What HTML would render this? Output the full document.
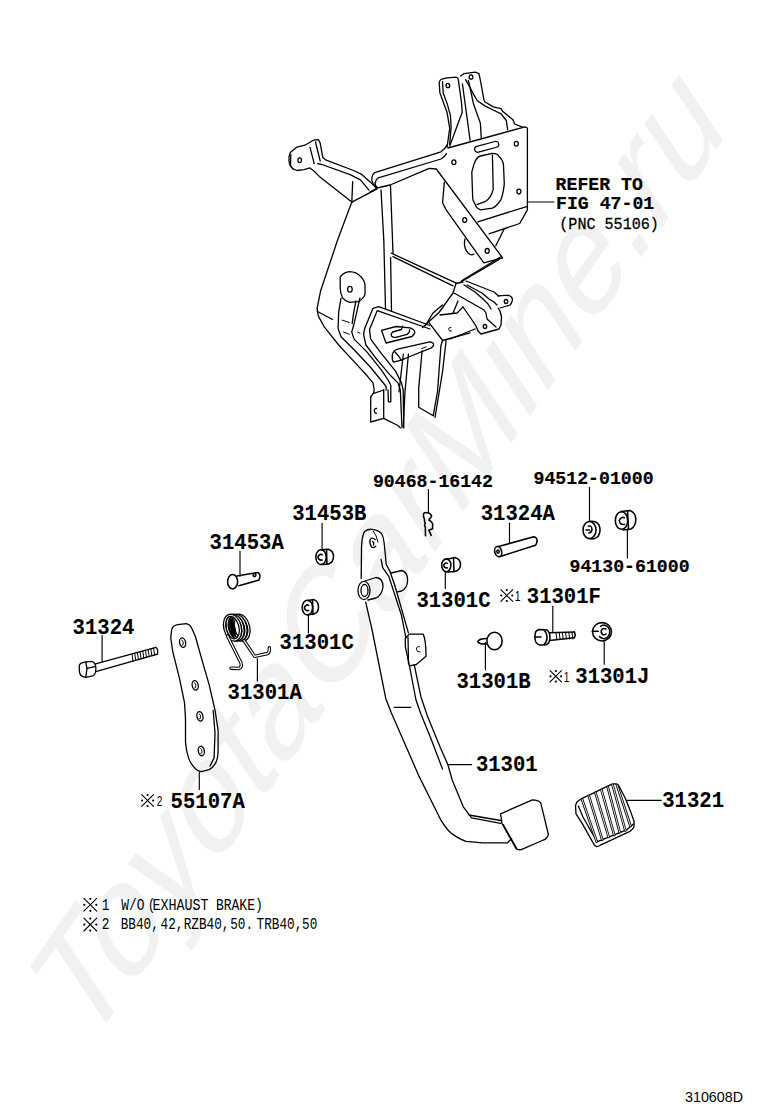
<!DOCTYPE html>
<html><head><meta charset="utf-8"><style>
html,body{margin:0;padding:0;background:#fff;}
body{width:760px;height:1112px;overflow:hidden;position:relative;}
#wm{position:absolute;left:0;top:0;width:760px;height:1112px;}
svg{position:absolute;left:0;top:0;}
</style></head><body>
<svg id="wm" width="760" height="1112" viewBox="0 0 760 1112">
<text x="0" y="0" transform="matrix(0.8148 -1.1671 0.826 1.239 85.2 1053.2)" style="font-family:'Liberation Sans',sans-serif;font-size:100px;fill:#f1f1f1;">ToyotaCarMine.ru</text>
</svg>
<svg width="760" height="1112" viewBox="0 0 760 1112">
<g fill="none" stroke="#000" stroke-linejoin="round" stroke-linecap="round">
<path d="M292.8,168.8 C288.5,165 287.8,157 290.3,152.5 L296.3,147.4 L305.7,144.8 L313.4,140.2 L318.5,139.7 L320.2,143.1 L322.8,157.6 L326.2,160.2 L353.6,170.5 L362.1,174.7 L370.7,182.4 L375.8,187.6" stroke-width="1.3" />
<path d="M292.8,168.8 L297.1,170.5 L304.0,169.6 L309.9,167.9 L314.2,171.3 L319.3,176.4 L351.8,202.1" stroke-width="1.3" />
<path d="M317.6,163.6 L321.9,164.5 L350.1,174.7 L360.4,179.9 L369.0,190.1" stroke-width="1.3" />
<path d="M310.0,147.4 L314.2,163.6" stroke-width="1.3" />
<path d="M315.5,142.0 L320.2,161.0" stroke-width="1.3" />
<path d="M290.8,154.5 L290.5,166.0" stroke-width="1.3" />
<ellipse cx="299.7" cy="160.2" rx="1.8" ry="2.4" stroke-width="1.3"/>
<path d="M352.7,181.6 L351.8,202.1" stroke-width="1.3" />
<path d="M351.8,202.1 L376.8,189.1" stroke-width="1.3" />
<path d="M351.8,202.1 L337.6,240 L320.5,291.3 L317.1,308.4 Q317.5,313 318.6,316.6 L324.5,327.2 L338.7,345 L354.1,361.6 L367.1,375.8 L373,382.9 L374.2,390 L373.5,393.2" stroke-width="1.3" />
<path d="M317.5,311.5 L332.5,319.5" stroke-width="1.3" />
<path d="M377.1,187.4 Q371,183 371.8,177.9 Q372.5,174 374.7,172.6 L441,151.8 Q445,149 447.5,144.7" stroke-width="1.3" />
<path d="M376.5,186.8 Q374.5,184 375.3,182.6 Q376,179 378.3,177.9 L441,159 Q444.5,157 446.4,153.6" stroke-width="1.3" />
<path d="M370.0,192.1 L377.1,188.0 L390.1,185.0 L429.2,168.4 L436.3,169.0 L502.6,257.8" stroke-width="1.3" />
<path d="M444.3,182.2 L442.6,202.8 L446.0,209.6 L483.8,262.9 L502.6,257.8" stroke-width="1.3" />
<ellipse cx="464.7" cy="220.1" rx="2" ry="2.4" stroke-width="1.3"/>
<ellipse cx="487.2" cy="250.9" rx="2" ry="2.4" stroke-width="1.3"/>
<path d="M447.9,148.0 L524.9,126.9 L527.4,128.0 L527.4,206.4 L477.8,221.8" stroke-width="1.3" />
<path d="M527.4,206.4 L527.4,209.9 L519.7,223.5 L489.0,233.8" stroke-width="1.3" />
<path d="M504.3,228.7 L495.8,245.8" stroke-width="1.3" />
<path d="M465,239 Q463,247 468,253 Q471,256 474,254" stroke-width="1.3" />
<rect x="474.3" y="143.8" width="24.8" height="6" rx="3" stroke-width="1.2" transform="rotate(-15 486.7 146.8)"/>
<path d="M471.8,172.2 L473.6,165.4 Q476,157 480.4,156 L492.4,153.4 Q498,153.5 499.2,156.8 Q503,160 503.5,165.4 L504.3,184.2 Q503,195 500.9,199.6 Q497,206 492.4,208.2 L480.4,209.9 Q476,208 475.3,204.7 Q472.7,200 472.7,197.9 Z" stroke-width="1.3" />
<path d="M492.4,155.1 L493.2,189.3 Q491,198 485.5,201.3 L477,204.7" stroke-width="1.3" />
<ellipse cx="453.9" cy="162.3" rx="2" ry="2.4" stroke-width="1.3"/>
<ellipse cx="516.3" cy="143.7" rx="2" ry="2.4" stroke-width="1.3"/>
<ellipse cx="518.9" cy="191.6" rx="2" ry="2.4" stroke-width="1.3"/>
<path d="M447.1,147 L449.7,128.4 L447.1,112.6 L443.2,102.1 L439.9,92.9 L439.2,82.4 Q440,79.5 441.8,79.1 L447.1,77.8 L456.3,77.1 Q458,77.5 458.3,79.7 L461.6,103.4 L462.2,112.6 L459.6,119.2 L449.7,146" stroke-width="1.3" />
<path d="M442.5,81.7 L443.2,92.9 L447.1,103.4 L450.4,115.3 L451.1,127.1 L449.7,144.2" stroke-width="1.3" />
<ellipse cx="447.9" cy="85.5" rx="1.8" ry="2.2" stroke-width="1.3"/>
<path d="M462.4,83.8 L466.0,110.0 L470.1,140.3" stroke-width="1.3" />
<path d="M468.4,80.4 L473.6,104.3 L480.4,123.2 L481.3,138.6" stroke-width="1.3" />
<path d="M460.7,76.1 L464.1,73.6 L475.3,72.2 L479.0,73.6 L480.4,80.4 L483.8,99.2 L484.7,101.8 L493.2,106.9 L500.9,108.6 L502.6,111.2 L512.9,119.7 L514.6,124.0 L523.2,127.4" stroke-width="1.3" />
<path d="M465.5,79.7 L469.5,86.3 L473.4,94.2 L477.4,100.8 L485.3,106.1 L493.2,110.0 L501.1,113.9 L506.3,120.5 L507.6,129.7" stroke-width="1.3" />
<ellipse cx="471" cy="77" rx="1.8" ry="2.2" stroke-width="1.3"/>
<path d="M381.0,190.0 L383.8,240.0 L385.5,308.4" stroke-width="1.3" />
<path d="M390.5,185.7 L393.0,253.2" stroke-width="1.3" />
<path d="M390.6,257.5 L391.5,311.0" stroke-width="1.3" />
<path d="M391.3,253.2 L456.3,283.2" stroke-width="1.3" />
<path d="M393.0,256.6 L453.0,285.9" stroke-width="1.3" />
<path d="M340.2,276.8 Q344,272 349.6,271.6 Q356,272 359,275 Q364,279 365,284.5 L365,294.7 Q362,300 358.2,301.6 L349.6,302.4 Q345,301 342.8,298.2 Q340,293 340.2,287.9 Z" stroke-width="1.3" />
<ellipse cx="349.9" cy="289.3" rx="2.3" ry="2.9" stroke-width="1.3"/>
<path d="M341.0,298.2 L338.7,311.8 L338.1,328.4 L341.0,336.7 L354.1,349.7 L370.7,367.5 L381.3,380.5 L386.1,386.5 L386.1,390.0" stroke-width="1.3" />
<path d="M359.9,298.2 L354.1,323.7 L351.7,332.0 L354.1,339.1 L367.1,352.1 L381.3,369.9 L388.4,380.5 L390.8,385.3 L390.8,401.8 L388.4,401.8 L388.0,390.0" stroke-width="1.3" />
<path d="M355.9,301.0 L353.2,315.4 L352.2,323.7" stroke-width="1.3" />
<path d="M342.2,320.1 L349.3,322.5" stroke-width="1.0" />
<path d="M343.4,332.0 L349.3,334.3" stroke-width="1.0" />
<path d="M357.6,332.0 L360.0,333.2" stroke-width="1.0" />
<path d="M430.0,325.5 L378.7,306.7 L373.0,308.3 L364.7,328.4 L363.6,334.3 L365.9,345.0 L376.6,359.2 L390.8,375.8 L397.9,382.9 L400.3,390.0 L402.0,427.9" stroke-width="1.3" />
<path d="M430.0,329.0 L377.2,310.7 L369.5,329.6 L370.7,339.1 L381.3,353.3 L395.5,371.1 L401.5,382.9 L403.2,390.0 L403.8,427.9" stroke-width="1.3" />
<path d="M381.5,330.3 L396,326.5 L410,327.8 Q416,330 414.5,333.5 L412,336.5 L386,343 Z" stroke-width="1.3" />
<path d="M402.5,326.2 L401.5,329.5 L392.5,332 Q390.5,334 391.5,336 Q393,337.8 396,337.4 L407,334.4 Q410,332.5 409.6,329.8" stroke-width="1.3" />
<path d="M370.7,397.1 L373.0,393.6 L383.7,390.0" stroke-width="1.3" />
<path d="M370.7,397.1 L370.7,422.0 L383.7,418.4 L397.9,425.5 L400.3,427.9" stroke-width="1.3" />
<path d="M383.7,390.0 L383.7,418.4" stroke-width="1.3" />
<path d="M376.5,408.5 Q374.5,408 374.3,410.8 Q374.5,413.5 376.5,413.2" stroke-width="1.3" />
<path d="M403.3,354.2 L399.0,391.8" stroke-width="1.3" />
<path d="M408.4,354.2 L405.0,391.8 L403.3,426.1" stroke-width="1.3" />
<path d="M422.1,350.8 L418.7,388.4 L418.7,407.2 L433.2,415.8 L437.5,391.8 L440.9,345.7 L442.6,340.5" stroke-width="1.3" />
<path d="M446.1,340.5 L442.6,371.3 L435.0,417.5" stroke-width="1.3" />
<path d="M401.3,360.2 L393.5,362.2 Q391.5,359 392.5,354 Q394,350 397.6,349.1 L429.9,341.8 Q434,342.5 433.6,345 Q433,347 431.2,347.8 L408.7,357 Z" stroke-width="1.3" />
<path d="M395.0,352.0 L398.5,356.0 L401.3,360.2" stroke-width="1.3" />
<path d="M421.6,348.7 L426.2,346.8" stroke-width="1.0" />
<path d="M442.6,340.5 L470.0,332.8" stroke-width="1.3" />
<path d="M429.0,322.6 L442.6,340.5" stroke-width="1.3" />
<path d="M456.0,283.5 L453.0,293.0 L439.0,312.5 L422.5,327.5" stroke-width="1.3" />
<path d="M442.4,305.0 L433.0,313.0 L425.3,325.7" stroke-width="1.3" />
<path d="M456.0,283.5 L463.0,282.0" stroke-width="1.3" />
<path d="M459.9,282.5 L499.2,259.4" stroke-width="1.3" />
<path d="M461.6,280.8 L500.9,256.8" stroke-width="1.3" />
<path d="M466.0,281.0 L494.0,292.0 L498.0,295.5" stroke-width="1.3" />
<path d="M467.0,285.0 L482.0,293.0 L489.0,299.0 L494.0,302.0 L497.0,305.0" stroke-width="1.3" />
<path d="M464.0,285.0 L475.0,292.0 L483.0,299.0 L488.0,304.0 L491.0,309.0" stroke-width="1.3" />
<path d="M454.0,293.0 L470.0,302.0 L484.0,310.0 L486.0,313.0 L487.0,319.0 L496.0,327.0" stroke-width="1.3" />
<path d="M463.0,307.0 L470.0,317.0 L476.0,326.0 L478.0,331.0 L481.0,334.0 L499.0,329.0 L501.0,325.0 L501.5,317.0 L500.0,311.0 L498.0,308.0" stroke-width="1.3" />
<path d="M498,296 Q503,295 509,295.5 Q513,297 512.3,300.5 Q511.5,303.5 510,305 L500,308" stroke-width="1.3" />
<ellipse cx="506" cy="301.5" rx="1.7" ry="2" stroke-width="1.3"/>
<ellipse cx="485" cy="326.5" rx="1.7" ry="2" stroke-width="1.3"/>
<path d="M440.0,315.0 L457.0,313.0 L463.0,307.0" stroke-width="1.3" />
<path d="M453.0,313.0 L458.0,301.0" stroke-width="1.3" />
<path d="M450.0,339.0 L475.0,329.0" stroke-width="1.3" />
<path d="M451,327.5 Q448.5,327 448.5,329.5 Q449,331.5 451.5,331" stroke-width="1.0" />
<path d="M361.2,578.5 L361.5,547.7 Q362,535 364.6,531.5 Q368,529 372,529.3 Q378,529.8 381.5,533.5 Q383.5,537 384,542 L385.3,554.2 L386.2,564.5 L389.6,570.5 L394.7,585 L408.4,632.9" stroke-width="1.3" />
<path d="M373.3,531.1 Q376.5,535 378,542.2" stroke-width="1.0" />
<path d="M381.1,559.3 L382.8,567.9 L388.8,576.4 L401.6,615.8 L405.9,638.0" stroke-width="1.3" />
<path d="M375.2,539.6 Q372,536.8 370.2,539.5 Q369,543.5 371.5,546.8 Q374,548.6 375.8,546.2 M372.5,541.5 Q374.5,542.5 373.5,545" stroke-width="1.3" />
<path d="M365,581 L376,577.5 Q383,578 383,587 Q382,595 376,598 L368,600" stroke-width="1.3" />
<ellipse cx="364" cy="590.5" rx="6" ry="9.2" stroke-width="1.3"/>
<ellipse cx="364.5" cy="590.5" rx="3.5" ry="6" stroke-width="1.3"/>
<path d="M391.3,573 L401.6,570.5 Q407.6,572 407.6,580 Q407.6,588 401.6,591 L397.3,591.8" stroke-width="1.3" />
<path d="M365.7,602.1 L372.1,630 L385.9,699.1 L391.4,712.9 L419.1,776.4 L441.2,820.7 Q448,832 455,835.9 Q462,840 466,841.4 L482.6,842.8 L507.5,842.8 L511.6,838.6" stroke-width="1.3" />
<path d="M414.4,665.5 L420.9,696.7 L427.4,716.1 L440.3,747.4 L447.9,764.7 L452.2,780.0 L463.3,806.8 L471.6,817.9 L500.6,823.4" stroke-width="1.3" />
<path d="M409.4,665.5 L416.0,700.0 L420.9,714.0 L430.6,737.7 L442.5,769.0" stroke-width="1.3" />
<path d="M394.2,707.4 L410.8,707.4" stroke-width="1.3" />
<path d="M469.0,815.0 L500.6,820.5" stroke-width="1.3" />
<path d="M405.3,646.6 L405.3,638.3 L409.4,634.1 L423.2,634.1 Q426,640 426,656.2 L416.3,664.5 L409.4,665.9 Z" stroke-width="1.3" />
<path d="M408.0,637.0 L408.5,664.0" stroke-width="1.3" />
<path d="M419.5,646.5 Q416.5,646 416.5,649.5 Q417,652.5 420,652" stroke-width="1.0" />
<path d="M500.6,813.8 L532.4,799.9 Q538,800 540.7,802.7 L548.4,834.5 Q547,839 543.4,840 L521.3,849.7 Q517,850 515.8,848.3 L502,823.4 Z" stroke-width="1.3" />
<path d="M503.4,824.8 L517.0,849.0" stroke-width="1.3" />
<path d="M448.1,764.6 L471.6,764.6" stroke-width="1.15" />
<path d="M575.5,805.6 L576.9,802 L582,798.3 L590.3,794.6 L601.3,789.1 L611.4,784.4 Q614,783.5 616,784 Q618,784.5 618.8,785.8 L625.3,798.3 L630.8,812.1 L634,821.3 Q634.5,825 633.6,827.7 Q632,830 629.9,831.4 L600.4,845.2 Q598,846.5 596.7,846.6 Q595,846 594,844.3 L582,823.1 L576,813.9 Z" stroke-width="1.3" />
<path d="M578.3,806 L583,817 L592,833 L597.6,841.6 L627.1,829.6 L633.5,824" stroke-width="1.3" />
<path d="M582,799.2 L596.7,841.6" stroke-width="2.6"/>
<path d="M582,799.2 L596.7,841.6" stroke-width="0.9" stroke="#fff"/>
<path d="M588.8,795.8 L602.2,839.7" stroke-width="2.6"/>
<path d="M588.8,795.8 L602.2,839.7" stroke-width="0.9" stroke="#fff"/>
<path d="M595.5,792.8 L608.7,837" stroke-width="2.6"/>
<path d="M595.5,792.8 L608.7,837" stroke-width="0.9" stroke="#fff"/>
<path d="M601.5,790 L614.2,835.1" stroke-width="2.6"/>
<path d="M601.5,790 L614.2,835.1" stroke-width="0.9" stroke="#fff"/>
<path d="M607.8,787.2 L619.7,832.3" stroke-width="2.6"/>
<path d="M607.8,787.2 L619.7,832.3" stroke-width="0.9" stroke="#fff"/>
<path d="M612.6,784.8 L625.3,830.5" stroke-width="2.6"/>
<path d="M612.6,784.8 L625.3,830.5" stroke-width="0.9" stroke="#fff"/>
<path d="M617,785 L630.5,826" stroke-width="2.6"/>
<path d="M617,785 L630.5,826" stroke-width="0.9" stroke="#fff"/>
<path d="M627.1,800.3 L661.3,800.3" stroke-width="1.15" />
<path d="M79.3,665.5 Q80,663.6 81.1,663.1 L85.8,661.9 L91.8,661.3 Q94,662 94.7,663.7 Q96,666 95.9,668.4 Q95.8,672.5 94.7,674.4 Q93.5,675.8 91.8,676.1 L85.8,677.3 Q82.5,677 81.1,675.5 Q79.3,673.5 79.3,670.8 Z" stroke-width="1.3" />
<path d="M85.8,662.4 L87.0,668.4 L94.9,666.7" stroke-width="1.3" />
<path d="M87.0,668.4 L85.8,676.8" stroke-width="1.3" />
<path d="M95.5,663.8 L156.0,647.4" stroke-width="1.3" />
<path d="M95.8,671.6 L157.4,654.2" stroke-width="1.3" />
<path d="M156,647.4 Q158.5,650 157.4,654.2" stroke-width="1.3" />
<path d="M132.0,653.9 L133.0,661.4" stroke-width="1.0" />
<path d="M134.7,653.2 L135.7,660.6" stroke-width="1.0" />
<path d="M137.4,652.4 L138.4,659.8" stroke-width="1.0" />
<path d="M140.1,651.7 L141.1,659.1" stroke-width="1.0" />
<path d="M142.8,651.0 L143.8,658.3" stroke-width="1.0" />
<path d="M145.5,650.2 L146.5,657.6" stroke-width="1.0" />
<path d="M148.2,649.5 L149.2,656.8" stroke-width="1.0" />
<path d="M150.9,648.8 L151.9,656.0" stroke-width="1.0" />
<path d="M153.6,648.1 L154.6,655.3" stroke-width="1.0" />
<path d="M102.1,635.5 L102.1,661.5" stroke-width="1.15" />
<path d="M171.7,629.6 Q173,625.5 177.6,624.7 L186.5,623.7 Q190,624.5 191.4,627.6 L195.4,636.5 L202.3,661.2 L209.2,684.9 L215.1,710.5 L218.1,730.3 L218.1,750 Q218,760 215.1,763.8 Q212,768.5 209.2,769.7 L201.3,771.7 Q197,771 195.4,768.7 Q190,763 188.5,757.9 Q186,750 185.5,742.1 L185.5,718.4 L184.5,702.6 L179.6,678.9 L172.7,651.3 L170.7,637.5 Z" stroke-width="1.3" />
<path d="M213.2,710.5 L215.0,733.0 L214.1,757.9 L210.0,766.0" stroke-width="1.3" />
<ellipse cx="182.6" cy="642.6" rx="3.0" ry="4.8" stroke-width="1.3" transform="rotate(-12 182.6 642.6)"/>
<path d="M181.8,640.1 Q183.9,641.6 183.2,642.8 Q184.0,644.8 182.0,645.4" stroke-width="1.0" />
<ellipse cx="195.2" cy="685.3" rx="3.0" ry="4.8" stroke-width="1.3" transform="rotate(-12 195.2 685.3)"/>
<path d="M194.4,682.8 Q196.5,684.3 195.8,685.5 Q196.6,687.5 194.6,688.1" stroke-width="1.0" />
<ellipse cx="199.9" cy="716.3" rx="3.0" ry="4.8" stroke-width="1.3" transform="rotate(-12 199.9 716.3)"/>
<path d="M199.1,713.8 Q201.2,715.3 200.5,716.5 Q201.3,718.5 199.3,719.1" stroke-width="1.0" />
<ellipse cx="201.3" cy="751" rx="3.0" ry="4.8" stroke-width="1.3" transform="rotate(-12 201.3 751)"/>
<path d="M200.5,748.5 Q202.6,750.0 201.9,751.2 Q202.7,753.2 200.7,753.8" stroke-width="1.0" />
<path d="M199.3,771.7 L199.3,789.5" stroke-width="1.15" />
<ellipse cx="241" cy="627.6" rx="7.6" ry="12.6" stroke-width="3.5" transform="rotate(-14 241 627.6)"/>
<ellipse cx="241" cy="627.6" rx="7.6" ry="12.6" stroke-width="1.0" stroke="#fff" transform="rotate(-14 241 627.6)"/>
<ellipse cx="238" cy="627.6" rx="7.6" ry="12.6" stroke-width="3.5" transform="rotate(-14 238 627.6)"/>
<ellipse cx="238" cy="627.6" rx="7.6" ry="12.6" stroke-width="1.0" stroke="#fff" transform="rotate(-14 238 627.6)"/>
<ellipse cx="235" cy="627.6" rx="7.6" ry="12.6" stroke-width="3.5" transform="rotate(-14 235 627.6)"/>
<ellipse cx="235" cy="627.6" rx="7.6" ry="12.6" stroke-width="1.0" stroke="#fff" transform="rotate(-14 235 627.6)"/>
<ellipse cx="232.5" cy="627.6" rx="7.6" ry="12.6" stroke-width="3.5" transform="rotate(-14 232.5 627.6)"/>
<ellipse cx="232.5" cy="627.6" rx="7.6" ry="12.6" stroke-width="1.0" stroke="#fff" transform="rotate(-14 232.5 627.6)"/>
<path d="M229.5,620 Q231,617.5 233,619 L235.5,630 Q236,636 234,636.5 Q231.5,636 230.5,631 Z" fill="#000" stroke-width="0.8"/>
<path d="M227.5,636 L230,641 L240.8,662.5 Q242.5,667 239,668.5 L231,668.2" stroke-width="3.4" stroke-linecap="round" stroke-linejoin="round"/>
<path d="M227.5,636 L230,641 L240.8,662.5 Q242.5,667 239,668.5 L231,668.2" stroke-width="1.3" stroke="#fff" stroke-linecap="round" stroke-linejoin="round"/>
<path d="M244,640.5 L254.6,656.4 L267.5,653.5 Q269.6,652.8 269.3,647.8" stroke-width="3.4" stroke-linecap="round" stroke-linejoin="round"/>
<path d="M244,640.5 L254.6,656.4 L267.5,653.5 Q269.6,652.8 269.3,647.8" stroke-width="1.3" stroke="#fff" stroke-linecap="round" stroke-linejoin="round"/>
<path d="M257.4,658.5 L257.4,680.9" stroke-width="1.15" />
<path d="M236.8,576 L257.9,572.5 Q260.5,573.5 259.8,577 L259,580 L239,585.8" stroke-width="1.55" />
<ellipse cx="232.6" cy="581.7" rx="5" ry="7.2" stroke-width="1.55"/>
<ellipse cx="254.5" cy="575" rx="1.4" ry="1.6" stroke-width="1.55"/>
<path d="M240.0,551.4 L240.0,576.2" stroke-width="1.15" />
<path d="M321.5,549.8 L328.5,549.2 Q333.5,551 333.5,556.5 Q333.5,562 328.5,564 L322,564.6" stroke-width="1.55" />
<path d="M326.5,549.5 L327.0,564.3" stroke-width="1.55" />
<ellipse cx="321" cy="557.1" rx="5.2" ry="7.4" stroke-width="1.55"/>
<path d="M322.2,554.8 Q319.9,553.4 318.0,556.7 Q318.0,560.4 322.2,560.1" stroke-width="1.55" />
<path d="M322.1,523.4 L322.1,549.5" stroke-width="1.15" />
<path d="M307.8,600.4 L314,599.6 Q318.5,601.5 318.5,607 Q318.5,612.5 314,614 L308,614.8" stroke-width="1.55" />
<path d="M312.5,600.0 L313.0,614.4" stroke-width="1.55" />
<ellipse cx="307.4" cy="607.6" rx="5.2" ry="7.4" stroke-width="1.55"/>
<path d="M308.7,605.3 Q306.4,603.9 304.5,607.2 Q304.5,610.9 308.7,610.6" stroke-width="1.55" />
<path d="M308.4,615.0 L308.4,632.9" stroke-width="1.15" />
<path d="M425.5,535.8 L425.3,527.1 L424.5,525.5 L425.3,523.2 L424.5,521.6 L424.5,519.6 L423.5,516.4 L423.5,514.1 Q424,512.6 425.3,512.5 L428.8,512.9 L430.8,514.5 L431.6,515.7 L430.8,517.6 L428.8,520 L431.2,521.6 L432.6,523.6 L432.6,528.7 L428.8,530.3 L430,532.6 L431.2,535.4" stroke-width="1.55" />
<path d="M428.4,489.5 L428.4,512.3" stroke-width="1.15" />
<path d="M498.5,546.5 L533.7,536.8 Q537.5,537.5 537,541.5 Q536.5,544.5 535.5,545.3 L499.5,556.7" stroke-width="1.55" />
<ellipse cx="498.2" cy="551.6" rx="3.4" ry="5.2" stroke-width="1.55" transform="rotate(-15 498.2 551.6)"/>
<ellipse cx="498" cy="551.5" rx="1.2" ry="1.6" stroke-width="1.55"/>
<path d="M509.5,523.2 L509.5,543.5" stroke-width="1.15" />
<path d="M446.8,559.2 L455,557.4 Q460.5,559 460.5,564.5 Q460.5,570 455,571.5 L447,572" stroke-width="1.55" />
<path d="M453.5,557.8 L454.0,571.6" stroke-width="1.55" />
<ellipse cx="446.3" cy="565.3" rx="4.6" ry="6.4" stroke-width="1.55"/>
<path d="M447.4,563.3 Q445.5,562.1 443.8,565.0 Q443.8,568.1 447.4,567.9" stroke-width="1.55" />
<path d="M445.3,572.0 L445.3,588.4" stroke-width="1.15" />
<path d="M589,521.4 Q596,520.5 599,525 Q601.5,531 598,536.5 Q594.5,539.5 591,538.8" stroke-width="1.55" />
<ellipse cx="589.5" cy="530" rx="6.5" ry="8.6" stroke-width="1.55"/>
<path d="M588.5,526 Q591.5,525.5 592,529 Q592,532.5 589,533 M586,530 L589.5,530" stroke-width="1.55" />
<path d="M589.5,487.4 L589.5,521.5" stroke-width="1.15" />
<path d="M621,511.5 L630,510.5 Q635.5,512.5 635.8,519 Q636,526 631,529 L623,530" stroke-width="1.55" />
<ellipse cx="621.5" cy="520.5" rx="6.2" ry="8.8" stroke-width="1.55"/>
<path d="M624.4,517.9 Q621.7,516.2 619.3,520.3 Q619.3,524.7 624.4,524.4" stroke-width="1.55" />
<path d="M627.5,511.0 L628.5,529.5" stroke-width="1.55" />
<path d="M627.4,529.5 L627.4,557.9" stroke-width="1.15" />
<path d="M535.2,633.5 Q536,629.8 540,629.6 L546,629.8 Q549.8,631 550,637 Q550,643.5 546,644.8 L540,645 Q535.3,644.3 534.9,638 Z" stroke-width="1.55" />
<path d="M544,630 Q547,633 547,637.5 Q547,642 544,644.8" stroke-width="1.55" />
<path d="M535.0,637.0 L541.0,637.0" stroke-width="1.55" />
<path d="M549.5,632.8 L574.3,632.0" stroke-width="1.55" />
<path d="M549.5,640.5 L574.3,637.8" stroke-width="1.55" />
<path d="M574.3,632 Q576,635 574.3,637.8" stroke-width="1.55" />
<path d="M556.0,632.5 L556.8,639.0" stroke-width="1.0" />
<path d="M559.2,632.5 L560.0,639.0" stroke-width="1.0" />
<path d="M562.4,632.5 L563.2,639.0" stroke-width="1.0" />
<path d="M565.6,632.5 L566.4,639.0" stroke-width="1.0" />
<path d="M568.8,632.5 L569.6,639.0" stroke-width="1.0" />
<path d="M572.0,632.5 L572.8,639.0" stroke-width="1.0" />
<path d="M552.8,606.3 L552.8,631.5" stroke-width="1.15" />
<ellipse cx="494.5" cy="641" rx="7.6" ry="8.8" stroke-width="1.55"/>
<path d="M487,638.5 Q479,638.5 477.8,641.5 Q478.5,644.5 487,644" stroke-width="1.55" />
<path d="M485.4,642.5 L485.4,669.8" stroke-width="1.15" />
<ellipse cx="602" cy="631.8" rx="9.5" ry="9.2" stroke-width="1.55"/>
<path d="M600.5,626.5 Q602,625 604,625 Q609.5,626 609.8,631.8 Q609.5,637.8 604,638.7 Q601,638.5 599.5,636.5" stroke-width="1.55" />
<path d="M592.3,631.3 L598.3,631.3" stroke-width="1.55" />
<path d="M606,629 Q603,627.5 601.5,630 Q600.5,633 602.5,634.5 Q604.5,635.3 606,634" stroke-width="1.55" />
<path d="M604.2,641.0 L604.2,664.3" stroke-width="1.15" />
<path d="M527.4,202.0 L554.0,202.0" stroke-width="1.15" />
<path d="M500.9,589.6 L512.7,601.4 M512.7,589.6 L500.9,601.4" stroke-width="1.1"/>
<circle cx="506.8" cy="590.0" r="1.1" fill="#000" stroke="none"/>
<circle cx="506.8" cy="601.0" r="1.1" fill="#000" stroke="none"/>
<circle cx="501.3" cy="595.5" r="1.1" fill="#000" stroke="none"/>
<circle cx="512.3" cy="595.5" r="1.1" fill="#000" stroke="none"/>
<path d="M550.1,670.6 L561.4,681.9 M561.4,670.6 L550.1,681.9" stroke-width="1.1"/>
<circle cx="555.8" cy="671.0" r="1.1" fill="#000" stroke="none"/>
<circle cx="555.8" cy="681.6" r="1.1" fill="#000" stroke="none"/>
<circle cx="550.5" cy="676.3" r="1.1" fill="#000" stroke="none"/>
<circle cx="561.1" cy="676.3" r="1.1" fill="#000" stroke="none"/>
<path d="M141.7,794.6 L153.5,806.4 M153.5,794.6 L141.7,806.4" stroke-width="1.1"/>
<circle cx="147.6" cy="795.0" r="1.1" fill="#000" stroke="none"/>
<circle cx="147.6" cy="806.0" r="1.1" fill="#000" stroke="none"/>
<circle cx="142.1" cy="800.5" r="1.1" fill="#000" stroke="none"/>
<circle cx="153.1" cy="800.5" r="1.1" fill="#000" stroke="none"/>
<path d="M83.9,898.4 L96.7,911.2 M96.7,898.4 L83.9,911.2" stroke-width="1.1"/>
<circle cx="90.3" cy="898.8" r="1.1" fill="#000" stroke="none"/>
<circle cx="90.3" cy="910.8" r="1.1" fill="#000" stroke="none"/>
<circle cx="84.3" cy="904.8" r="1.1" fill="#000" stroke="none"/>
<circle cx="96.3" cy="904.8" r="1.1" fill="#000" stroke="none"/>
<path d="M83.9,918.2 L96.7,931.0 M96.7,918.2 L83.9,931.0" stroke-width="1.1"/>
<circle cx="90.3" cy="918.6" r="1.1" fill="#000" stroke="none"/>
<circle cx="90.3" cy="930.6" r="1.1" fill="#000" stroke="none"/>
<circle cx="84.3" cy="924.6" r="1.1" fill="#000" stroke="none"/>
<circle cx="96.3" cy="924.6" r="1.1" fill="#000" stroke="none"/>
</g>
<g fill="#000">
<text transform="translate(292.2 520.2) scale(1 1.06)" style="font-family:'Liberation Mono',monospace;font-size:20.6px;font-weight:bold;stroke:#000;stroke-width:0.1px;" >31453B</text>
<text transform="translate(480.7 520.3) scale(1 1.06)" style="font-family:'Liberation Mono',monospace;font-size:20.6px;font-weight:bold;stroke:#000;stroke-width:0.1px;" >31324A</text>
<text transform="translate(209.6 549.2) scale(1 1.06)" style="font-family:'Liberation Mono',monospace;font-size:20.6px;font-weight:bold;stroke:#000;stroke-width:0.1px;" >31453A</text>
<text transform="translate(416.4 606.5) scale(1 1.06)" style="font-family:'Liberation Mono',monospace;font-size:20.6px;font-weight:bold;stroke:#000;stroke-width:0.1px;" >31301C</text>
<text transform="translate(526.8 603) scale(1 1.06)" style="font-family:'Liberation Mono',monospace;font-size:20.6px;font-weight:bold;stroke:#000;stroke-width:0.1px;" >31301F</text>
<text transform="translate(72.6 634.2) scale(1 1.06)" style="font-family:'Liberation Mono',monospace;font-size:20.6px;font-weight:bold;stroke:#000;stroke-width:0.1px;" >31324</text>
<text transform="translate(279.6 649.2) scale(1 1.06)" style="font-family:'Liberation Mono',monospace;font-size:20.6px;font-weight:bold;stroke:#000;stroke-width:0.1px;" >31301C</text>
<text transform="translate(456.5 688) scale(1 1.06)" style="font-family:'Liberation Mono',monospace;font-size:20.6px;font-weight:bold;stroke:#000;stroke-width:0.1px;" >31301B</text>
<text transform="translate(575.3 683) scale(1 1.06)" style="font-family:'Liberation Mono',monospace;font-size:20.6px;font-weight:bold;stroke:#000;stroke-width:0.1px;" >31301J</text>
<text transform="translate(227.6 699.2) scale(1 1.06)" style="font-family:'Liberation Mono',monospace;font-size:20.6px;font-weight:bold;stroke:#000;stroke-width:0.1px;" >31301A</text>
<text transform="translate(475.9 771.2) scale(1 1.06)" style="font-family:'Liberation Mono',monospace;font-size:20.6px;font-weight:bold;stroke:#000;stroke-width:0.1px;" >31301</text>
<text transform="translate(662.2 807) scale(1 1.06)" style="font-family:'Liberation Mono',monospace;font-size:20.6px;font-weight:bold;stroke:#000;stroke-width:0.1px;" >31321</text>
<text transform="translate(170.6 808.3) scale(1 1.06)" style="font-family:'Liberation Mono',monospace;font-size:20.6px;font-weight:bold;stroke:#000;stroke-width:0.1px;" >55107A</text>
<text x="372.9" y="487.4" style="font-family:'Liberation Mono',monospace;font-size:18.2px;font-weight:bold;stroke:#000;stroke-width:0.2px;" >90468-16142</text>
<text x="533.5" y="483.5" style="font-family:'Liberation Mono',monospace;font-size:18.2px;font-weight:bold;stroke:#000;stroke-width:0.2px;" >94512-01000</text>
<text x="569.5" y="571.6" style="font-family:'Liberation Mono',monospace;font-size:18.2px;font-weight:bold;stroke:#000;stroke-width:0.2px;" >94130-61000</text>
<text x="555.6" y="189.7" style="font-family:'Liberation Mono',monospace;font-size:18.2px;font-weight:bold;stroke:#000;stroke-width:0.2px;" >REFER TO</text>
<text x="556.0" y="208.7" style="font-family:'Liberation Mono',monospace;font-size:18.2px;font-weight:bold;stroke:#000;stroke-width:0.2px;" >FIG 47-01</text>
<text transform="translate(559.3 228.6) scale(1 1.05)" style="font-family:'Liberation Mono',monospace;font-size:15.1px;font-weight:normal;stroke:#000;stroke-width:0.25px;" >(PNC 55106)</text>
<text transform="translate(514.8 601) scale(0.7 1)" style="font-family:'Liberation Sans',sans-serif;font-size:15px;font-weight:normal;" >1</text>
<text transform="translate(563.8 682) scale(0.7 1)" style="font-family:'Liberation Sans',sans-serif;font-size:14.5px;font-weight:normal;" >1</text>
<text transform="translate(156.8 806.3) scale(0.72 1)" style="font-family:'Liberation Sans',sans-serif;font-size:14px;font-weight:normal;" >2</text>
<text transform="translate(101.8 909.8) scale(0.79 1)" style="font-family:'Liberation Mono',monospace;font-size:16.1px;font-weight:normal;" >1</text>
<text transform="translate(101.8 929.4) scale(0.79 1)" style="font-family:'Liberation Mono',monospace;font-size:16.1px;font-weight:normal;" >2</text>
<text transform="translate(121.2 909.8) scale(0.8 1)" style="font-family:'Liberation Mono',monospace;font-size:16.1px;font-weight:normal;" >W/O</text>
<text transform="translate(147.8 909.8) scale(0.79 1)" style="font-family:'Liberation Mono',monospace;font-size:16.1px;font-weight:normal;" >(</text>
<text transform="translate(152.4 909.8) scale(0.83 1)" style="font-family:'Liberation Mono',monospace;font-size:16.1px;font-weight:normal;" >EXHAUST</text>
<text transform="translate(215.9 909.8) scale(0.81 1)" style="font-family:'Liberation Mono',monospace;font-size:16.1px;font-weight:normal;" >BRAKE)</text>
<text transform="translate(120.7 929.4) scale(0.79 1)" style="font-family:'Liberation Mono',monospace;font-size:16.1px;font-weight:normal;" >BB40,</text>
<text transform="translate(160.5 929.4) scale(0.79 1)" style="font-family:'Liberation Mono',monospace;font-size:16.1px;font-weight:normal;" >42,</text>
<text transform="translate(183.7 929.4) scale(0.79 1)" style="font-family:'Liberation Mono',monospace;font-size:16.1px;font-weight:normal;" >RZB40,</text>
<text transform="translate(230.2 929.4) scale(0.79 1)" style="font-family:'Liberation Mono',monospace;font-size:16.1px;font-weight:normal;" >50.</text>
<text transform="translate(256.5 929.4) scale(0.79 1)" style="font-family:'Liberation Mono',monospace;font-size:16.1px;font-weight:normal;" >TRB40,</text>
<text transform="translate(302.1 929.4) scale(0.79 1)" style="font-family:'Liberation Mono',monospace;font-size:16.1px;font-weight:normal;" >50</text>
<text x="685" y="1101.6" style="font-family:'Liberation Sans',sans-serif;font-size:14.3px;font-weight:normal;" >310608D</text>
</g>
</svg>
</body></html>
